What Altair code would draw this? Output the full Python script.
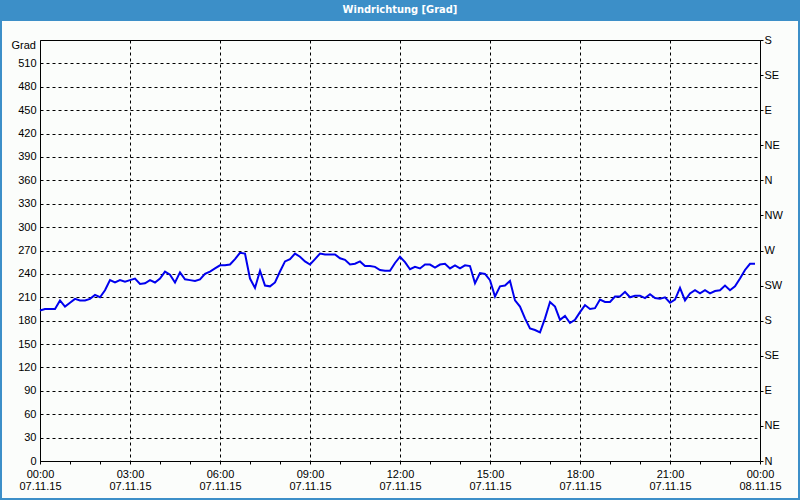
import json
import altair as alt
import pandas as pd

# ---------------- data ----------------
title_text = "Windrichtung [Grad]"
y_unit = "Grad"

# wind direction in degrees, one row per hour, 10-minute samples (00:00 .. 23:50)
deg_values = [
    193, 195, 195, 195, 206, 198,   # 00
    203, 208, 206, 206, 208, 213,   # 01
    210, 219, 232, 229, 232, 230,   # 02
    232, 234, 227, 228, 232, 229,   # 03
    234, 243, 239, 229, 242, 233,   # 04
    232, 231, 233, 240, 243, 247,   # 05
    251, 251, 252, 259, 267, 266,   # 06
    234, 222, 244, 225, 224, 229,   # 07
    243, 256, 259, 266, 262, 256,   # 08
    252, 259, 266, 265, 265, 265,   # 09
    260, 258, 252, 253, 256, 250,   # 10
    250, 249, 245, 244, 244, 254,   # 11
    262, 255, 246, 249, 247, 252,   # 12
    252, 248, 252, 253, 247, 251,   # 13
    247, 251, 250, 228, 241, 240,   # 14
    232, 211, 224, 225, 231, 206,   # 15
    198, 183, 170, 168, 165, 183,   # 16
    204, 198, 181, 186, 177, 181,   # 17
    191, 200, 195, 196, 207, 204,   # 18
    204, 211, 211, 217, 210, 212,   # 19
    212, 209, 214, 209, 208, 210,   # 20
    203, 207, 222, 206, 215, 219,   # 21
    215, 219, 215, 218, 219, 225,   # 22
    219, 224, 234, 245, 253, 253,   # 23
]
sample_hours = [i / 6 for i in range(len(deg_values))]

y_ticks = [0, 30, 60, 90, 120, 150, 180, 210, 240, 270, 300, 330, 360, 390, 420, 450, 480, 510]
compass_deg = [0, 45, 90, 135, 180, 225, 270, 315, 360, 405, 450, 495, 540]
compass_lbl = ["N", "NE", "E", "SE", "S", "SW", "W", "NW", "N", "NE", "E", "SE", "S"]

x_ticks = list(range(25))
x_lbl_time = ["00:00", "03:00", "06:00", "09:00", "12:00", "15:00", "18:00", "21:00", "00:00"]
x_lbl_date = ["07.11.15", "07.11.15", "07.11.15", "07.11.15", "07.11.15",
              "07.11.15", "07.11.15", "07.11.15", "08.11.15"]

# ---------------- styling ----------------
FONT = "Tahoma, 'Liberation Sans', Arial, sans-serif"
TFONT = "'Liberation Sans Narrow', 'DejaVu Sans Condensed', 'Liberation Sans', sans-serif"
BLUE_BAR = "#3c8fc8"
BG = "#fbfdfb"
W, H = 720, 421

df = pd.DataFrame({"hour": sample_hours, "deg": deg_values})
cdf = pd.DataFrame({"deg": compass_deg})

xscale = alt.Scale(domain=[0, 24], nice=False, zero=False)
yscale = alt.Scale(domain=[0, 540], nice=False, zero=True)

x_label_expr = (
    f"datum.value % 3 === 0 ? [{json.dumps(x_lbl_time)}[datum.value / 3], "
    f"{json.dumps(x_lbl_date)}[datum.value / 3]] : ''"
)
compass_expr = (
    f"{json.dumps(compass_lbl)}[indexof({json.dumps(compass_deg)}, datum.value)]"
)

x_axis = alt.Axis(
    values=x_ticks, title=None, domain=False,
    ticks=True, tickSize=3, tickColor="black",
    labelExpr=x_label_expr, labelFont=FONT, labelFontSize=11, labelColor="black",
    labelPadding=4, labelLineHeight=12, labelAngle=0,
    labelFlush=False, labelOverlap=False, labelBound=False,
    grid=True, gridColor="black", gridDash=[3, 3], gridWidth=1,
    gridOpacity={"condition": {"test": "datum.value % 3 === 0", "value": 1}, "value": 0},
)

y_axis_left = alt.Axis(
    values=y_ticks, orient="left", title=None, domain=False,
    ticks=False, tickSize=0,
    labelFont=FONT, labelFontSize=11, labelColor="black", labelPadding=4,
    labelFlush=False, labelOverlap=False,
    grid=True, gridColor="black", gridDash=[3, 3], gridWidth=1,
)

y_axis_right = alt.Axis(
    values=compass_deg, orient="right", title=None, domain=False,
    ticks=True, tickSize=3, tickColor="black",
    labelExpr=compass_expr, labelFont=FONT, labelFontSize=11, labelColor="black",
    labelPadding=1, labelFlush=False, labelOverlap=False, grid=False,
)

line = alt.Chart(df).mark_line(color="#0000ee", strokeWidth=2).encode(
    x=alt.X("hour:Q", scale=xscale, axis=x_axis),
    y=alt.Y("deg:Q", scale=yscale, axis=y_axis_left),
)

right = alt.Chart(cdf).mark_point(opacity=0).encode(
    y=alt.Y("deg:Q", scale=yscale, axis=y_axis_right),
)

one = pd.DataFrame({"t": [title_text]})

bar = alt.Chart(one).mark_rect(color=BLUE_BAR).encode(
    x=alt.value(-40), x2=alt.value(W + 40), y=alt.value(-40), y2=alt.value(-19)
)
border = alt.Chart(one).mark_rect(
    fillOpacity=0, stroke=BLUE_BAR, strokeWidth=2
).encode(x=alt.value(-39), x2=alt.value(W + 39), y=alt.value(-39), y2=alt.value(H + 38))

title = alt.Chart(one).mark_text(
    color="white", font=TFONT, fontSize=11, fontWeight="bold", align="center", baseline="middle"
).encode(text="t:N", x=alt.value(W / 2), y=alt.value(-30))

unit = alt.Chart(pd.DataFrame({"t": [y_unit]})).mark_text(
    color="black", font=FONT, fontSize=11, align="right", baseline="middle"
).encode(text="t:N", x=alt.value(-4), y=alt.value(6))

chart = (
    alt.layer(line, right, bar, border, title, unit)
    .resolve_axis(y="independent")
    .properties(
        width=W, height=H, background=BG,
        autosize=alt.AutoSizeParams(type="none"),
        padding={"left": 40, "top": 40, "right": 40, "bottom": 39},
    )
    .configure_view(stroke="black", strokeWidth=1)
)

chart.save("out.html", embed_options={"renderer": "svg", "actions": False})
